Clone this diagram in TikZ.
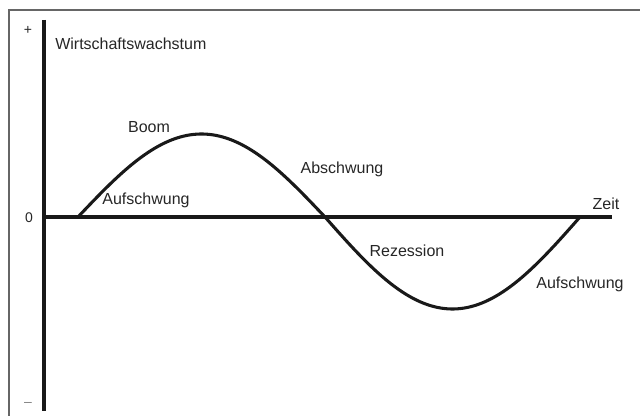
\documentclass[tikz,border=0pt]{standalone}
\usepackage{fontspec}
\setmainfont{Liberation Sans}
\begin{document}
\begin{tikzpicture}[x=0.75pt,y=-0.75pt,
  lbl/.style={font=\fontsize{10.5}{12}\selectfont, text=black!85, inner sep=0pt},
  big/.style={font=\fontsize{12}{14}\selectfont, text=black!85, inner sep=0pt},
  axis/.style={line width=2.6pt, black!90},
  curve/.style={line width=2.3pt, black!90, line cap=round}]
\useasboundingbox (0,0) rectangle (640,416);
\draw[black!60, line width=1pt] (9,416) -- (9,10) -- (640,10);
% axes
\coordinate (ytop) at (44,20);
\coordinate (ybot) at (44,411);
\coordinate (xl) at (44,217);
\coordinate (xr) at (612,217);
\draw[axis] (ytop) -- (ybot);
\draw[axis] (xl) -- (xr);
% curve
\draw[curve] plot[domain=0:180, samples=90] ({78+1.37222*\x}, {217-83*sin(\x)});
\draw[curve] plot[domain=0:180, samples=90] ({325+1.41667*\x}, {217+92*sin(\x)});
% labels
\node[lbl] (plus) at (28,30) {+};
\node[lbl] (zero) at (29,218) {0};
\node[lbl, text=black!50] (minus) at (28,404) {–};
\node[big, anchor=west] (ww) at (55,44) {Wirtschaftswachstum};
\node[big] (boom) at (149,127) {Boom};
\node[big] (auf1) at (146,200) {Aufschwung};
\node[big] (ab) at (342,169) {Abschwung};
\node[big] (rez) at (407,251) {Rezession};
\node[big] (auf2) at (580,284) {Aufschwung};
\node[big] (zeit) at (606,204) {Zeit};
\end{tikzpicture}
\end{document}
